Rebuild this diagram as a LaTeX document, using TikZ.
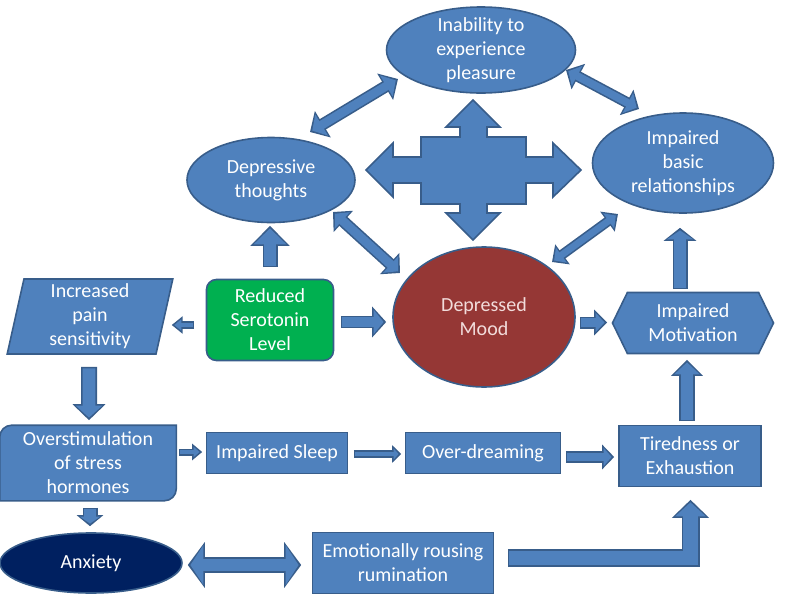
\documentclass[tikz,border=0pt]{standalone}
\usepackage{fontspec}
\setmainfont{Carlito}
\usetikzlibrary{arrows.meta, backgrounds, calc, positioning, shapes.geometric, shapes.symbols}

\definecolor{boxblue}{HTML}{4F81BD}
\definecolor{edgeblue}{HTML}{385D8A}
\definecolor{moodred}{HTML}{953735}
\definecolor{moodtext}{HTML}{F2DCDB}
\definecolor{serogreen}{HTML}{00B050}
\definecolor{anxnavy}{HTML}{002060}

\tikzset{
  base/.style={draw=edgeblue, line width=0.8pt, fill=boxblue, text=white, align=center,
               font=\fontsize{10}{12}\selectfont},
  oval/.style={base, ellipse, inner sep=0pt},
  box/.style={base, rectangle, inner sep=0pt},
  % block arrows: outer shaft width, head width, head length (pt)
  blk/.style n args={3}{
    /utils/exec={\pgfmathsetmacro\shaftin{#1-1.6}\pgfmathsetmacro\headwin{#2-3}\pgfmathsetmacro\headlin{#3-2}},
    preaction={draw=edgeblue, line width=#1pt, line join=miter, shorten <=0pt, shorten >=0pt,
               -{Triangle[width=#2pt, length=#3pt]}},
    draw=boxblue, line width=\shaftin pt, line join=miter, shorten <=0.8pt, shorten >=1.3pt,
    -{Triangle[width=\headwin pt, length=\headlin pt]}},
  dblk/.style n args={3}{
    /utils/exec={\pgfmathsetmacro\shaftin{#1-1.6}\pgfmathsetmacro\headwin{#2-3}\pgfmathsetmacro\headlin{#3-2}},
    preaction={draw=edgeblue, line width=#1pt, shorten <=0pt, shorten >=0pt,
               {Triangle[width=#2pt, length=#3pt]}-{Triangle[width=#2pt, length=#3pt]}},
    draw=boxblue, line width=\shaftin pt, shorten <=1.3pt, shorten >=1.3pt,
    {Triangle[width=\headwin pt, length=\headlin pt]}-{Triangle[width=\headwin pt, length=\headlin pt]}},
}

\begin{document}
\begin{tikzpicture}[x=0.5pt, y=-0.5pt]

\useasboundingbox (0,0) rectangle (800,600);

\node [oval                    , minimum width=94.5pt, minimum height=43pt, inner ysep=-2pt] (inab)  at (481,50)  {Inability to\\experience\\pleasure};
\node [oval                    , minimum width=84pt  , minimum height=42.5pt               ] (dthou) at (271,180) {Depressive\\thoughts};
\node [oval                    , minimum width=90.5pt, minimum height=50pt                 ] (relat) at (683,163) {Impaired\\basic\\relationships};
\node [oval, fill=moodred, text=moodtext, minimum width=91pt, minimum height=70pt          ] (mood)  at (484,317) {Depressed\\Mood};
\node [box , fill=serogreen, rounded corners=5pt, minimum width=63.5pt, minimum height=40.5pt] (sero) at (270,320) {Reduced\\Serotonin\\Level};
\node [base, trapezium, trapezium left angle=81, trapezium right angle=99, trapezium stretches=true,
       inner sep=0pt, minimum width=83pt, minimum height=37.5pt                            ] (pain)  at (90,316.5) {Increased\\pain\\sensitivity};
\node [base, signal, signal to=west and east, signal pointer angle=128,
       inner sep=0pt, minimum width=80.5pt, minimum height=30.5pt                          ] (motiv) at (693,323) {Impaired\\Motivation};
\node [box , draw=none, fill=none, minimum width=87.5pt, minimum height=37pt              ] (over)  at (88,463)  {Overstimulation\\of stress\\hormones};
\node [box                     , minimum width=70.5pt, minimum height=20.5pt               ] (sleep) at (277,453) {Impaired Sleep};
\node [box                     , minimum width=77.5pt, minimum height=20.5pt               ] (dream) at (483,453) {Over-dreaming};
\node [box                     , minimum width=71pt  , minimum height=30.5pt               ] (tired) at (690,456) {Tiredness or\\Exhaustion};
\node [oval, fill=anxnavy      , minimum width=91pt  , minimum height=30pt                 ] (anx)   at (91,563)  {Anxiety};
\node [box                     , minimum width=90.5pt, minimum height=30.5pt               ] (rum)   at (403,563) {Emotionally rousing\\rumination};

\begin{scope}[on background layer]
\draw [base] (over.south west) -- ([yshift=-6pt]over.north west) arc [start angle=180, end angle=90, radius=6pt]
             -- (over.north east) -- ([yshift=6pt]over.south east) arc [start angle=0, end angle=-90, radius=6pt] -- cycle;
\end{scope}

% four-way arrow in the middle
\draw [base] (473,100) -- (500,127) -- (487,127) -- (487,137) -- (526,137) -- (526,157) -- (553,157) -- (553,143)
             -- (581,170) -- (553,197) -- (553,183) -- (526,183) -- (526,204) -- (487,204) -- (487,213) -- (500,213)
             -- (473,240) -- (446,213) -- (460,213) -- (460,204) -- (421,204) -- (421,183) -- (393,183) -- (393,197)
             -- (366,170) -- (393,143) -- (393,157) -- (421,157) -- (421,137) -- (460,137) -- (460,127) -- (446,127) -- cycle;

\draw [dblk={6}{15}{7.5}] ($(dthou.center)+(39,-48)$) -- ($(inab.center)+(-83,29)$);
\draw [dblk={5.5}{14}{7}] ($(inab.center)+(85,20)$)   -- ($(relat.center)+(-44,-54)$);
\draw [dblk={6}{14}{7}]   ($(dthou.center)+(62,32)$)  -- ($(mood.center)+(-84,-44)$);
\draw [dblk={5}{12}{6.5}] ($(relat.center)+(-65,51)$) -- ($(mood.center)+(68,-55)$);

\draw [blk={4}{8.5}{5.5}]   ($(sero.west)+(-11.5,5)$)  -- ($(sero.west -| pain.east)+(6.5,5)$);
\draw [blk={6.3}{15}{7}]    ($(sero.east)+(6.5,2)$)    -- ($(sero.east -| mood.west)+(-6,2)$);
\draw [blk={7.5}{19}{10}]   ($(sero.north)+(0,-11.5)$) -- ($(sero.north |- dthou.south)+(0,2.5)$);
\draw [blk={8}{16}{8}]      ($(pain.south)+(-1,12)$)   -- ($(over.north)+(1,-5)$);
\draw [blk={7.5}{13}{5.5}]  ($(over.south)+(2,7)$)     -- ($(anx.north)+(-1,-6)$);
\draw [blk={3.5}{8}{5}]     ($(over.east)+(2.5,-11)$)  -- ($(sleep.west)+(-3.5,-1)$);
\draw [blk={4}{8.5}{4.5}]   ($(sleep.east)+(5.5,1)$)   -- ($(dream.west)+(-3.5,1)$);
\draw [blk={6}{12}{6}]      ($(dream.east)+(4.5,4)$)   -- ($(dream.east -| tired.west)+(-4,4)$);
\draw [blk={8}{15.5}{8}]    ($(tired.north)+(-3,-3.5)$) -- ($(motiv.south)+(-6,5.5)$);
\draw [blk={7.5}{16}{6.5}]  ($(motiv.north)+(-13,-2.5)$) -- ($(relat.south)+(-3,14)$);
\draw [blk={6}{12.5}{6.5}]  ($(mood.east)+(4,5.5)$)    -- ($(motiv.west)+(-4.5,-0.5)$);
\draw [blk={9}{18}{9}]      ($(rum.east)+(13.5,-5)$)   -| ($(tired.south)+(0.5,12.5)$);
\draw [dblk={8}{22.5}{8.5}] ($(anx.east)+(5,2)$)       -- ($(rum.west)+(-10.5,2)$);

\end{tikzpicture}
\end{document}
